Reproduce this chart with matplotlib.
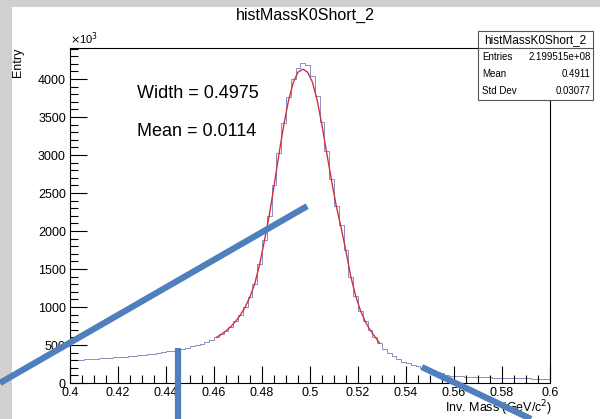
import numpy as np
import matplotlib.pyplot as plt
from matplotlib.patches import Rectangle
from matplotlib.lines import Line2D

plt.rcParams['font.family'] = ['Liberation Sans', 'DejaVu Sans']

# K0 short invariant mass, 100 bins from 0.4 to 0.6 GeV/c^2 (entries in units of 10^3)
mass_lo, mass_hi, nbins = 0.4, 0.6, 100
entries = [
    300, 303, 307, 311, 315, 319, 323, 327, 331, 336,
    341, 346, 352, 358, 364, 371, 379, 387, 396, 405,
    415, 426, 438, 451, 465, 481, 499, 519, 542, 570,
    602, 640, 686, 742, 810, 895, 1000, 1130, 1300, 1560,
    1880, 2200, 2600, 3020, 3420, 3760, 4000, 4150, 4210, 4180,
    4040, 3780, 3430, 3050, 2680, 2330, 2080, 1750, 1400, 1150,
    950, 810, 700, 610, 520, 450, 395, 350, 313, 282,
    257, 236, 218, 200, 182, 165, 148, 130, 108, 98,
    92, 88, 84, 81, 79, 77, 75, 73, 71, 70,
    68, 67, 65, 63, 62, 60, 58, 56, 54, 53,
]
# fitted curve evaluated at bin centres 0.461 ... 0.529
fit_first_bin = 30
fit_vals = [
    600, 640, 686, 742, 810, 895, 1000, 1135, 1310, 1560,
    1870, 2200, 2590, 3000, 3380, 3710, 3950, 4090, 4130, 4090,
    3960, 3720, 3390, 3020, 2660, 2320, 2040, 1730, 1400, 1150,
    955, 810, 700, 610, 525,
]

hist_name = 'histMassK0Short_2'
stats_labels = ['Entries', 'Mean', 'Std Dev']
stats_values = ['2.199515e+08', '0.4911', '0.03077']
fit_notes = ['Width = 0.4975', 'Mean = 0.0114']

# thick pointer strokes drawn over the canvas (figure fractions)
pointer_lines = [
    ([0.0, 0.512], [0.086, 0.508]),
    ([0.297, 0.297], [0.169, 0.0]),
    ([0.703, 0.885], [0.124, 0.0]),
]

fig = plt.figure(figsize=(6, 4.19), dpi=100)
fig.patch.set_facecolor('#d0d0d0')
fig.patches.append(Rectangle((0.02, 0.0), 0.98, 0.983, transform=fig.transFigure,
                             facecolor='white', edgecolor='none', zorder=-1))

ax = fig.add_axes([70 / 600, 1 - 383 / 419, 480 / 600, 335 / 419])
ax.set_facecolor('white')

edges = np.linspace(mass_lo, mass_hi, nbins + 1)
centers = 0.5 * (edges[:-1] + edges[1:])
ax.stairs(entries, edges, color='#8a8cc4', lw=0.7)
fit_x = centers[fit_first_bin:fit_first_bin + len(fit_vals)]
ax.plot(fit_x, fit_vals, color='#cf3040', lw=1.0)

ax.set_xlim(mass_lo, mass_hi)
ax.set_ylim(0, 4408)
ax.set_xticks(np.arange(0.4, 0.6001, 0.02))
ax.set_xticklabels(['0.4', '0.42', '0.44', '0.46', '0.48', '0.5',
                    '0.52', '0.54', '0.56', '0.58', '0.6'])
ax.set_xticks(np.arange(0.4, 0.6001, 0.005), minor=True)
ax.set_yticks(np.arange(0, 4001, 500))
ax.set_yticks(np.arange(0, 4401, 100), minor=True)
ax.tick_params(which='both', direction='in', top=False, right=False,
               labelsize=9, width=0.8, pad=3)
ax.tick_params(which='major', length=12)
ax.tick_params(which='minor', length=6)
for sp in ax.spines.values():
    sp.set_linewidth(0.8)

ax.text(0.0, 1.004, r'$\times$10$^3$', transform=ax.transAxes, fontsize=8,
        ha='left', va='bottom')
fig.text(18 / 600, 1 - 48 / 419, 'Entry', rotation=90, fontsize=9,
         ha='center', va='top')
fig.text(552 / 600, 1 - 408 / 419, r'Inv. Mass (GeV/c$^2$)', fontsize=9,
         ha='right', va='center')
fig.text(305 / 600, 1 - 15 / 419, hist_name, fontsize=11.5, ha='center', va='center')

for i, note in enumerate(fit_notes):
    fig.text(137 / 600, 1 - (93 + 39 * i) / 419, note, fontsize=13,
             ha='left', va='center')

# stats box
bx0, bx1, by0, by1, bsep = 478, 593, 31, 100, 48
fig.patches.append(Rectangle((bx0 / 600, 1 - by1 / 419), (bx1 - bx0) / 600,
                             (by1 - by0) / 419, transform=fig.transFigure,
                             facecolor='white', edgecolor='#555555', lw=0.8, zorder=5))
fig.lines.append(Line2D([bx0 / 600, bx1 / 600], [1 - bsep / 419] * 2,
                        transform=fig.transFigure, color='#555555', lw=0.8, zorder=6))
fig.text((bx0 + bx1) / 2 / 600, 1 - 40 / 419, hist_name, fontsize=8.5,
         ha='center', va='center', zorder=7)
for i, (lab, val) in enumerate(zip(stats_labels, stats_values)):
    yy = 1 - (57.5 + 16.5 * i) / 419
    fig.text(482 / 600, yy, lab, fontsize=7, ha='left', va='center', zorder=7)
    fig.text(591 / 600, yy, val, fontsize=7, ha='right', va='center', zorder=7)

for xs, ys in pointer_lines:
    fig.lines.append(Line2D(xs, ys, transform=fig.transFigure, color='#4f7fbc',
                            lw=4.5, solid_capstyle='butt', zorder=10))

fig.savefig('out.png', dpi=100)
